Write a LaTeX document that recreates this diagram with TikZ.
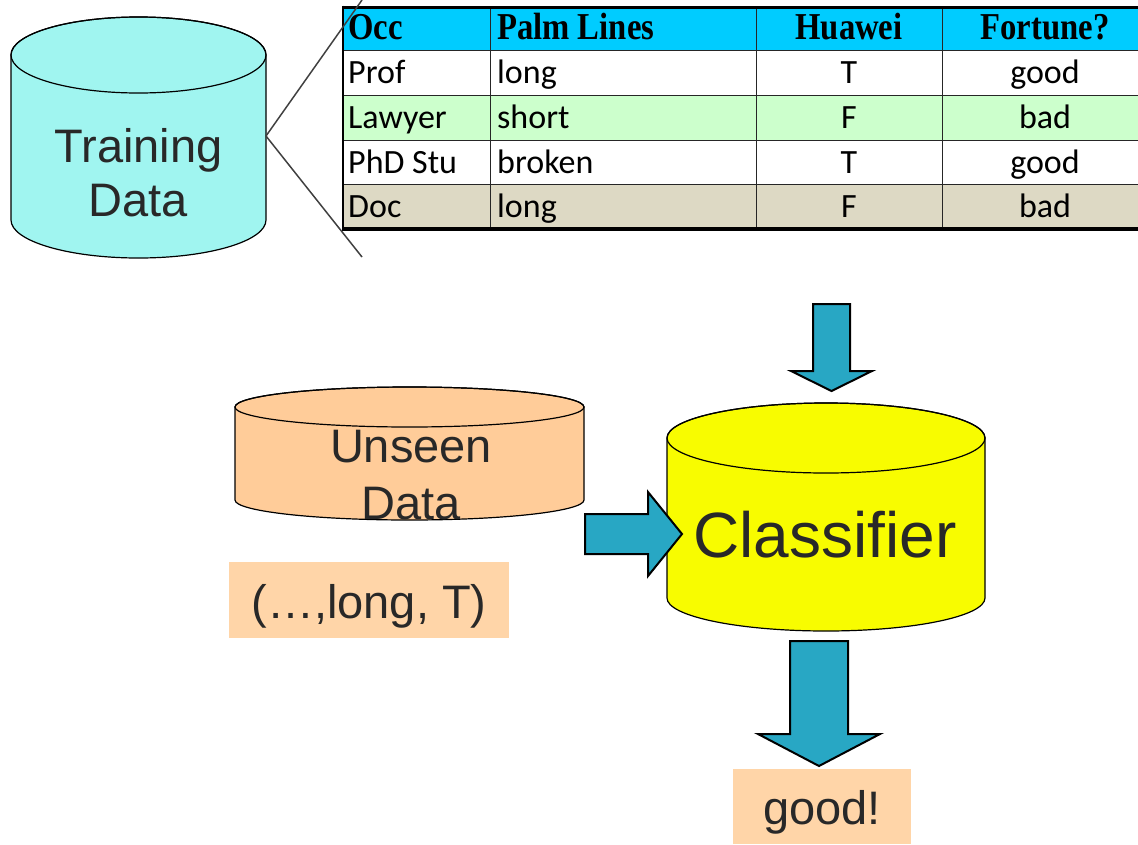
\documentclass[tikz,border=0pt]{standalone}
\usepackage{fontspec}
\setmainfont{Liberation Sans}
\newfontfamily\headfont[FakeStretch=0.86]{Liberation Serif}
\newfontfamily\bodyfont{Carlito}

\definecolor{trainfill}{RGB}{160,245,240}
\definecolor{unseenfill}{RGB}{255,204,153}
\definecolor{boxpeach}{RGB}{255,213,168}
\definecolor{classyellow}{RGB}{248,252,0}
\definecolor{arrowblue}{RGB}{40,167,196}
\definecolor{headcyan}{RGB}{0,204,255}
\definecolor{rowgreen}{RGB}{204,255,204}
\definecolor{rowtan}{RGB}{221,217,196}
\definecolor{inkgray}{RGB}{40,40,40}

\begin{document}
\begin{tikzpicture}[x=1pt, y=-1pt, line join=miter]
    \tikzstyle{drum} = [draw=black, line width=1.2pt]
    \tikzstyle{drumtext} = [text=inkgray, align=center, inner sep=0pt]
    \tikzstyle{bigarrow} = [draw=black, line width=2pt, fill=arrowblue]
    \tikzstyle{headcell} = [font=\headfont\bfseries\fontsize{38pt}{38pt}\selectfont, inner sep=0pt]
    \tikzstyle{bodycell} = [font=\bodyfont\fontsize{34pt}{34pt}\selectfont, inner sep=0pt]
    \tikzstyle{tablerule} = [draw=black!85, line width=1pt]
    \tikzstyle{zoomline} = [draw=black!75, line width=1.5pt]
    \tikzstyle{peachbox} = [fill=boxpeach, text=inkgray, inner sep=0pt, text height=36pt, text depth=0pt, font=\fontsize{47pt}{47pt}\selectfont]

    \useasboundingbox (0,0) rectangle (1138,844);

    % training data
    \filldraw[drum, fill=trainfill] (11,55) -- (11,220)
        arc[start angle=180, end angle=360, x radius=127.5pt, y radius=38pt] -- (266,55)
        arc[start angle=0, end angle=180, x radius=127.5pt, y radius=38pt] -- cycle;
    \draw[drum] (138.5,55) ellipse[x radius=127.5pt, y radius=38pt];
    \node[drumtext, font=\fontsize{47pt}{54pt}\selectfont] (train) at (138.5,173) {Training\\Data};
    \coordinate (trainside) at (266,136);

    % table
    \fill[headcyan] (343,7) rectangle (1138,50);
    \fill[rowgreen] (343,95) rectangle (1138,140);
    \fill[rowtan] (343,184) rectangle (1138,229);
    \foreach \y in {50,95,140,184}
        \draw[tablerule] (343,\y) -- (1138,\y);
    \foreach \x in {490,756,942}
        \draw[tablerule] (\x,7) -- (\x,229);
    \draw[line width=3pt] (343,7) -- (1138,7);
    \draw[line width=3.5pt] (343,229) -- (1138,229);
    \draw[line width=2.5pt] (343,5.5) -- (343,230.75);

    \node[headcell, anchor=base west] (occ) at (348,39) {Occ};
    \node[headcell, anchor=base west] (palm) at (497,39) {Palm Lines};
    \node[headcell, anchor=base] (huawei) at (849,39) {Huawei};
    \node[headcell, anchor=base] (fortune) at (1045,39) {Fortune?};
    \foreach \job/\palmv/\hw/\luck/\yb [count=\i] in {Prof/long/T/good/83, Lawyer/short/F/bad/128, PhD Stu/broken/T/good/173, Doc/long/F/bad/217} {
        \node[bodycell, anchor=base west] (job\i) at (348,\yb) {\job};
        \node[bodycell, anchor=base west] (palm\i) at (497,\yb) {\palmv};
        \node[bodycell, anchor=base] (hw\i) at (849,\yb) {\hw};
        \node[bodycell, anchor=base] (luck\i) at (1045,\yb) {\luck};
    }

    \coordinate (tabtop) at (362,0);
    \coordinate (tabbot) at (362,257);
    \draw[zoomline] (trainside) -- (tabtop);
    \draw[zoomline] (trainside) -- (tabbot);

    % arrow into the classifier
    \draw[bigarrow] (813,304) -- (850,304) -- (850,371) -- (872,371) -- (831.5,391) -- (791,371) -- (813,371) -- cycle;

    % unseen data
    \filldraw[drum, fill=unseenfill] (235,407) -- (235,500)
        arc[start angle=180, end angle=360, x radius=174.5pt, y radius=20pt] -- (584,407)
        arc[start angle=0, end angle=180, x radius=174.5pt, y radius=20pt] -- cycle;
    \draw[drum] (409.5,407) ellipse[x radius=174.5pt, y radius=20pt];
    \node[drumtext, font=\fontsize{47pt}{57pt}\selectfont] (unseen) at (411,475) {Unseen\\Data};

    \node[peachbox, minimum width=280pt, minimum height=76pt] (query) at (369,600) {(…,long, T)};

    % classifier
    \filldraw[drum, fill=classyellow] (667,438) -- (667,598)
        arc[start angle=180, end angle=360, x radius=159pt, y radius=33pt] -- (985,438)
        arc[start angle=0, end angle=180, x radius=159pt, y radius=35pt] -- cycle;
    \draw[drum] (826,438) ellipse[x radius=159pt, y radius=35pt];
    \node[drumtext, anchor=base, font=\fontsize{64pt}{64pt}\selectfont] (classifier) at (825,557) {Classifier};

    \draw[bigarrow] (585,514) -- (648,514) -- (648,492) -- (682,534) -- (648,576) -- (648,554) -- (585,554) -- cycle;
    \draw[bigarrow] (790,641) -- (848,641) -- (848,734) -- (880,734) -- (819,766) -- (758,734) -- (790,734) -- cycle;

    \node[peachbox, minimum width=178pt, minimum height=75pt] (answer) at (822,806.5) {good!};
\end{tikzpicture}
\end{document}
